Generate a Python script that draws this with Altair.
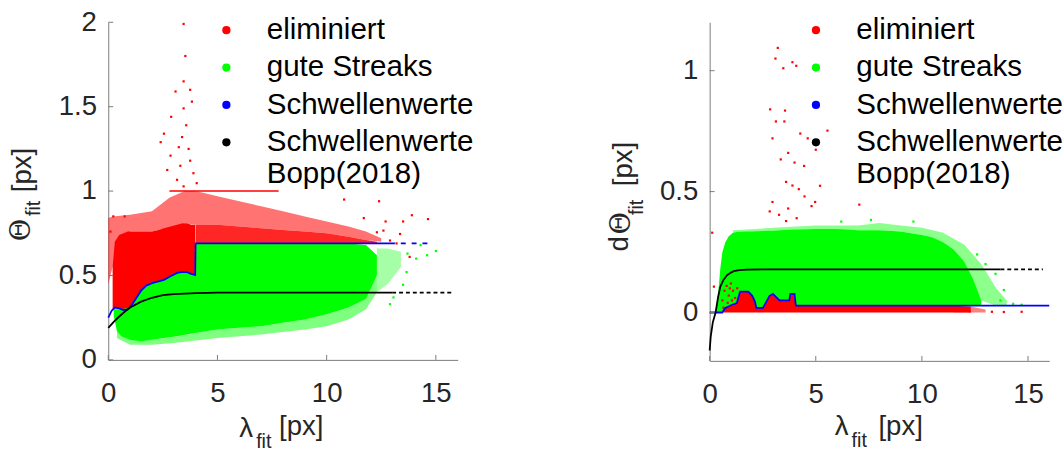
import altair as alt
import pandas as pd

SANS = "Liberation Sans"
SERIF = "DejaVu Serif"
TXT = "#262626"
AX = "#7a7a7a"
RED, GREEN, BLUE, BLACK = "#ff0000", "#00ff00", "#0000ff", "#000000"

legend_labels = ["eliminiert", "gute Streaks", "Schwellenwerte", "Schwellenwerte|\u00a0Bopp(2018)"]
legend_colors = [RED, GREEN, BLUE, BLACK]
x_ticks = [0, 5, 10, 15]
yL_ticks = [0, 0.5, 1, 1.5, 2]
yR_ticks = [0, 0.5, 1]

# ---------------- left panel: Theta_fit ----------------
L_thr_lam = [0.0, 0.15, 0.3, 0.5, 0.7, 0.9, 1.1, 1.3, 1.5, 1.75, 2.0, 2.3, 2.55, 2.85, 3.15, 3.4, 3.6, 3.8, 3.98, 4.0, 5.0, 8.0, 11.0, 12.9]
L_thr_val = [0.25, 0.29, 0.31, 0.305, 0.295, 0.30, 0.33, 0.37, 0.41, 0.44, 0.455, 0.465, 0.474, 0.495, 0.515, 0.522, 0.52, 0.51, 0.503, 0.69, 0.69, 0.69, 0.69, 0.69]
L_thr_dash_lam = [12.9, 14.7]
L_thr_dash_val = [0.69, 0.69]

L_bopp_lam = [0.0, 0.25, 0.5, 0.75, 1.0, 1.5, 2.0, 2.5, 3.0, 4.0, 5.0, 13.0]
L_bopp_val = [0.19, 0.225, 0.257, 0.285, 0.31, 0.345, 0.368, 0.383, 0.39, 0.396, 0.398, 0.398]
L_bopp_dash_lam = [13.0, 15.8]
L_bopp_dash_val = [0.398, 0.398]

# dense red cloud (lambda < 4), between threshold and top of cloud
L_redA_lam = [0.2, 0.3, 0.5, 0.7, 0.9, 1.1, 1.3, 1.5, 1.75, 2.0, 2.3, 2.55, 2.85, 3.15, 3.4, 3.6, 3.8, 3.98]
L_redA_lo = [0.30, 0.31, 0.305, 0.295, 0.30, 0.33, 0.37, 0.41, 0.44, 0.455, 0.465, 0.474, 0.495, 0.515, 0.522, 0.52, 0.51, 0.503]
L_redA_hi = [0.55, 0.70, 0.74, 0.75, 0.76, 0.76, 0.76, 0.76, 0.76, 0.76, 0.77, 0.78, 0.79, 0.80, 0.81, 0.81, 0.80, 0.80]
# medium red cloud (lambda >= 4)
L_redB_lam = [4.0, 5.0, 6.0, 7.0, 8.0, 9.0, 10.0, 11.0, 11.8, 12.3]
L_redB_lo = [0.69, 0.69, 0.69, 0.69, 0.69, 0.69, 0.69, 0.69, 0.69, 0.69]
L_redB_hi = [0.80, 0.80, 0.79, 0.78, 0.77, 0.76, 0.75, 0.73, 0.71, 0.70]
# sparse red fringe
L_redC_lam = [0.0, 0.2, 1.0, 2.0, 2.8, 3.5, 4.0, 5.0, 6.0, 7.0, 8.0, 9.0, 10.0, 11.0, 11.8, 12.5]
L_redC_lo = [0.45, 0.55, 0.76, 0.76, 0.785, 0.81, 0.80, 0.80, 0.79, 0.78, 0.77, 0.76, 0.75, 0.73, 0.71, 0.70]
L_redC_hi = [0.84, 0.85, 0.86, 0.88, 0.96, 1.0, 1.0, 0.97, 0.94, 0.91, 0.88, 0.85, 0.82, 0.79, 0.76, 0.72]
L_redline_lam = [2.8, 7.8]
L_redline_val = [1.0, 1.0]

L_green_lam = [0.25, 0.4, 0.6, 1.0, 1.5, 2.0, 2.55, 3.15, 3.6, 3.98, 4.0, 5.0, 6.0, 7.0, 8.0, 9.0, 10.0, 11.0, 11.8, 12.3]
L_green_hi = [0.30, 0.30, 0.30, 0.31, 0.41, 0.455, 0.474, 0.515, 0.52, 0.503, 0.69, 0.69, 0.69, 0.69, 0.69, 0.69, 0.69, 0.69, 0.68, 0.62]
L_green_lo = [0.26, 0.17, 0.14, 0.12, 0.11, 0.12, 0.13, 0.14, 0.15, 0.16, 0.16, 0.18, 0.19, 0.20, 0.22, 0.24, 0.27, 0.31, 0.36, 0.50]
L_gfringe_lam = [0.4, 1.0, 2.0, 3.0, 5.0, 7.0, 9.0, 10.0, 11.0, 11.8, 12.3]
L_gfringe_hi = [0.17, 0.12, 0.12, 0.135, 0.18, 0.20, 0.24, 0.27, 0.31, 0.36, 0.50]
L_gfringe_lo = [0.13, 0.09, 0.09, 0.10, 0.13, 0.15, 0.18, 0.20, 0.24, 0.30, 0.40]
L_gright_lam = [12.3, 12.8, 13.4]
L_gright_hi = [0.66, 0.66, 0.64]
L_gright_lo = [0.40, 0.45, 0.55]

L_redpts_lam = [3.45, 3.53, 3.45, 3.75, 3.08, 3.45, 2.88, 3.57, 2.55, 3.38, 3.23, 3.68, 2.85, 3.75, 3.3, 2.7, 3.9, 3.15, 4.05, 3.45, 2.4, 3.83,
                14.64, 13.9, 12.4, 11.7, 10.8, 13.2, 0.23, 0.75, 0.1, 12.7, 13.5, 13.36, 12.3, 12.6, 12.9, 13.8]
L_redpts_val = [1.99, 1.80, 1.65, 1.60, 1.59, 1.49, 1.44, 1.39, 1.34, 1.32, 1.26, 1.25, 1.21, 1.18, 1.15, 1.125, 1.106, 1.067, 1.047, 1.028, 1.29, 1.53,
                0.834, 0.857, 0.94, 0.84, 0.95, 0.69, 0.85, 0.85, 0.76, 0.82, 0.82, 0.746, 0.756, 0.766, 0.707, 0.61]
L_greenpts_lam = [14.3, 15.0, 14.6, 13.66, 13.5, 14.1, 13.06, 12.9, 13.7]
L_greenpts_val = [0.68, 0.645, 0.62, 0.52, 0.445, 0.60, 0.37, 0.33, 0.63]

# ---------------- right panel: dTheta_fit ----------------
R_thr_lam = [0.0, 0.59, 0.74, 1.0, 1.28, 1.43, 1.82, 2.0, 2.13, 2.2, 2.51, 2.82, 2.98, 3.29, 3.75, 3.8, 4.0, 4.06, 16.0]
R_thr_val = [0.0, 0.0, 0.019, 0.03, 0.039, 0.086, 0.086, 0.07, 0.046, 0.019, 0.019, 0.069, 0.077, 0.05, 0.05, 0.077, 0.077, 0.028, 0.028]

R_bopp_lam = [0.0, 0.05, 0.15, 0.28, 0.4, 0.5, 0.65, 0.82, 1.0, 1.13, 1.4, 1.75, 2.5, 13.7]
R_bopp_val = [-0.157, -0.10, -0.04, 0.0, 0.065, 0.106, 0.135, 0.154, 0.165, 0.171, 0.175, 0.177, 0.178, 0.178]
R_bopp_dash_lam = [13.7, 15.7]
R_bopp_dash_val = [0.178, 0.178]

R_green_lam = [0.3, 0.4, 0.5, 0.6, 0.74, 0.9, 1.1, 1.28, 1.43, 1.82, 2.0, 2.13, 2.2, 2.51, 2.82, 2.98, 3.29, 3.75, 3.8, 4.0, 4.06,
               5.0, 6.0, 7.0, 8.0, 9.0, 10.0, 10.5, 11.0, 11.5, 12.0, 12.4, 12.8]
R_green_hi = [0.0, 0.08, 0.18, 0.25, 0.29, 0.315, 0.33, 0.333, 0.334, 0.335, 0.335, 0.336, 0.336, 0.337, 0.338, 0.338, 0.34, 0.342, 0.342, 0.343, 0.343,
              0.345, 0.345, 0.34, 0.34, 0.335, 0.32, 0.31, 0.29, 0.26, 0.21, 0.14, 0.05]
R_green_lo = [0.0, 0.0, 0.0, 0.0, 0.019, 0.026, 0.032, 0.039, 0.086, 0.086, 0.07, 0.046, 0.019, 0.019, 0.069, 0.077, 0.05, 0.05, 0.077, 0.077, 0.028,
              0.028, 0.028, 0.028, 0.028, 0.028, 0.028, 0.028, 0.028, 0.028, 0.028, 0.028, 0.028]
R_gfringe_lam = [1.1, 3.0, 5.0, 7.0, 8.0, 9.0, 10.0, 11.0, 12.0, 12.8, 13.5, 14.0]
R_gfringe_hi = [0.34, 0.35, 0.36, 0.36, 0.37, 0.36, 0.35, 0.33, 0.28, 0.20, 0.10, 0.05]
R_gfringe_lo = [0.33, 0.338, 0.345, 0.34, 0.34, 0.335, 0.32, 0.29, 0.21, 0.05, 0.028, 0.028]

R_red_lam = [0.6, 0.74, 0.9, 1.1, 1.28, 1.43, 1.82, 2.0, 2.13, 2.2, 2.51, 2.82, 2.98, 3.29, 3.75, 3.8, 4.0, 4.06, 11.5, 12.3]
R_red_hi = [0.0, 0.019, 0.026, 0.032, 0.039, 0.086, 0.086, 0.07, 0.046, 0.019, 0.019, 0.069, 0.077, 0.05, 0.05, 0.077, 0.077, 0.028, 0.028, 0.024]
R_red_lo = [0.0] * 20
R_rfringe_lam = [11.5, 12.3, 13.0]
R_rfringe_hi = [0.028, 0.025, 0.012]
R_rfringe_lo = [0.0, 0.0, 0.0]

R_redpts_lam = [3.21, 3.1, 3.47, 3.9, 4.08, 2.85, 3.55, 3.12, 3.52, 5.55, 4.27, 4.62, 2.96, 5.0, 3.35, 3.7, 4.0, 4.45, 5.2, 7.05,
                3.6, 3.9, 4.2, 2.96, 3.27, 4.97, 3.7, 4.47, 4.8, 3.6, 2.83, 4.1, 0.12, 0.2,
                0.6, 0.7, 0.8, 0.9, 1.0, 1.1, 1.2, 0.85, 1.3, 0.95, 0.65, 1.05, 13.86, 12.26, 13.3, 14.7]
R_redpts_val = [1.094, 1.05, 1.01, 1.035, 1.02, 0.84, 0.835, 0.79, 0.79, 0.752, 0.74, 0.72, 0.72, 0.673, 0.633, 0.66, 0.62, 0.606, 0.524, 0.446,
                0.54, 0.525, 0.51, 0.457, 0.404, 0.457, 0.43, 0.48, 0.44, 0.378, 0.418, 0.39, 0.33, 0.107,
                0.05, 0.09, 0.11, 0.07, 0.12, 0.09, 0.06, 0.04, 0.10, 0.10, 0.02, 0.05, 0.002, 0.005, 0.003, 0.003]
R_greenpts_lam = [14.3, 13.86, 13.47, 13.0, 12.6, 13.7, 14.7, 7.6, 9.6, 6.2]
R_greenpts_val = [0.036, 0.093, 0.16, 0.20, 0.24, 0.05, 0.032, 0.383, 0.376, 0.376]


def panel(W, H, ydom, yticks, layers_spec, legx, titles_y, titles_x):
    xs = alt.Scale(domain=[0, 16], nice=False, zero=False)
    ys = alt.Scale(domain=ydom, nice=False, zero=False)
    xaxis = alt.Axis(values=x_ticks, format="~g", ticks=False, grid=False, domainColor=AX, domainWidth=1,
                     labelFont=SANS, labelFontSize=28, labelColor=TXT, labelPadding=20, labelFlush=False,
                     title=None)
    yaxis = alt.Axis(values=yticks, format="~g", ticks=False, grid=False, domainColor=AX, domainWidth=1,
                     labelFont=SANS, labelFontSize=28, labelColor=TXT, labelPadding=12, labelFlush=False,
                     title=None)

    def X(f):
        return alt.X(f, type="quantitative", scale=xs, axis=xaxis)

    def Y(f):
        return alt.Y(f, type="quantitative", scale=ys, axis=yaxis)

    layers = []
    for kind, args in layers_spec:
        if kind == "area":
            lam, lo, hi, color, op = args
            df = pd.DataFrame({"lam": lam, "lo": lo, "hi": hi})
            layers.append(alt.Chart(df).mark_area(color=color, opacity=op, interpolate="linear")
                          .encode(x=X("lam"), y=Y("hi"), y2=alt.Y2("lo")))
        elif kind == "line":
            lam, val, color, sw, dash = args
            df = pd.DataFrame({"lam": lam, "val": val})
            m = dict(color=color, strokeWidth=sw)
            if dash:
                m["strokeDash"] = dash
            layers.append(alt.Chart(df).mark_line(**m).encode(x=X("lam"), y=Y("val")))
        elif kind == "pts":
            lam, val, color, size = args
            df = pd.DataFrame({"lam": lam, "val": val})
            layers.append(alt.Chart(df).mark_square(color=color, size=size, opacity=1)
                          .encode(x=X("lam"), y=Y("val")))
    # inward ticks
    layers.append(alt.Chart(pd.DataFrame({"v": x_ticks})).mark_rule(color=AX, strokeWidth=1)
                  .encode(x=X("v"), y=alt.value(H), y2=alt.value(H - 5)))
    layers.append(alt.Chart(pd.DataFrame({"v": yticks})).mark_rule(color=AX, strokeWidth=1)
                  .encode(y=Y("v"), x=alt.value(0), x2=alt.value(5)))
    # legend carrier (invisible)
    leg = alt.Legend(orient="none", legendX=legx, legendY=-7, title=None, labelFont=SANS, labelFontSize=30,
                     labelColor="black", labelLimit=500, labelOffset=26, rowPadding=8, padding=0,
                     symbolType="circle", symbolSize=70, symbolStrokeWidth=0, symbolOpacity=1,
                     labelExpr="split(datum.label, '|')")
    layers.append(alt.Chart(pd.DataFrame({"lab": legend_labels})).mark_circle(opacity=0)
                  .encode(x=alt.value(0), y=alt.value(0),
                          color=alt.Color("lab:N", scale=alt.Scale(domain=legend_labels, range=legend_colors),
                                          legend=leg, sort=legend_labels)))
    # axis titles with subscripts
    for s, x, y, size, font, ang in titles_y + titles_x:
        layers.append(alt.Chart(alt.Data(values=[{}])).mark_text(text=s, fontSize=size, font=font, angle=ang,
                                                                  align="center", baseline="middle", color=TXT)
                      .encode(x=alt.value(x), y=alt.value(y)))
    return alt.layer(*layers).properties(width=W, height=H)


left_spec = [
    ("area", (L_redC_lam, L_redC_lo, L_redC_hi, RED, 0.55)),
    ("area", (L_redB_lam, L_redB_lo, L_redB_hi, RED, 0.85)),
    ("area", (L_redA_lam, L_redA_lo, L_redA_hi, RED, 1.0)),
    ("line", (L_redline_lam, L_redline_val, RED, 1.5, None)),
    ("area", (L_gfringe_lam, L_gfringe_lo, L_gfringe_hi, GREEN, 0.5)),
    ("area", (L_gright_lam, L_gright_lo, L_gright_hi, GREEN, 0.35)),
    ("area", (L_green_lam, L_green_lo, L_green_hi, GREEN, 1.0)),
    ("pts", (L_redpts_lam, L_redpts_val, RED, 5)),
    ("pts", (L_greenpts_lam, L_greenpts_val, GREEN, 5)),
    ("line", (L_thr_lam, L_thr_val, BLUE, 1.8, None)),
    ("line", (L_thr_dash_lam, L_thr_dash_val, BLUE, 1.8, [5, 6])),
    ("line", (L_bopp_lam, L_bopp_val, BLACK, 1.8, None)),
    ("line", (L_bopp_dash_lam, L_bopp_dash_val, BLACK, 1.8, [4, 3])),
]
right_spec = [
    ("area", (R_gfringe_lam, R_gfringe_lo, R_gfringe_hi, GREEN, 0.45)),
    ("area", (R_green_lam, R_green_lo, R_green_hi, GREEN, 1.0)),
    ("area", (R_rfringe_lam, R_rfringe_lo, R_rfringe_hi, RED, 0.5)),
    ("area", (R_red_lam, R_red_lo, R_red_hi, RED, 1.0)),
    ("pts", (R_redpts_lam, R_redpts_val, RED, 5)),
    ("pts", (R_greenpts_lam, R_greenpts_val, GREEN, 5)),
    ("line", (R_thr_lam, R_thr_val, BLUE, 1.8, None)),
    ("line", (R_bopp_lam, R_bopp_val, BLACK, 1.8, None)),
    ("line", (R_bopp_dash_lam, R_bopp_dash_val, BLACK, 1.8, [4, 3])),
]

left = panel(355, 343, [0, 2], yL_ticks, left_spec, 105,
             [("\u0398", -88, 211, 28, SERIF, 270), ("fit", -75, 189, 20, SANS, 270), ("[px]", -86, 150, 28, SANS, 270)],
             [("\u03bb", 140, 413, 28, SANS, 0), ("fit", 158, 427, 20, SANS, 0), ("[px]", 196, 411, 28, SANS, 0)])
right = panel(345, 344, [-0.2, 1.2], yR_ticks, right_spec, 93,
              [("d", -91, 225, 28, SANS, 270), ("\u0398", -89, 204, 28, SERIF, 270), ("fit", -74, 188, 20, SANS, 270),
               ("[px]", -87, 144, 28, SANS, 270)],
              [("\u03bb", 134, 411, 28, SANS, 0), ("fit", 152, 425, 20, SANS, 0), ("[px]", 194, 411, 28, SANS, 0)])

chart = (alt.hconcat(left, right, spacing=134)
         .resolve_scale(color="independent")
         .properties(padding={"left": 8, "top": 5, "right": 0, "bottom": 0}, background="white")
         .configure_view(stroke=None))

chart.save("out.html", embed_options={"renderer": "svg", "actions": False})
